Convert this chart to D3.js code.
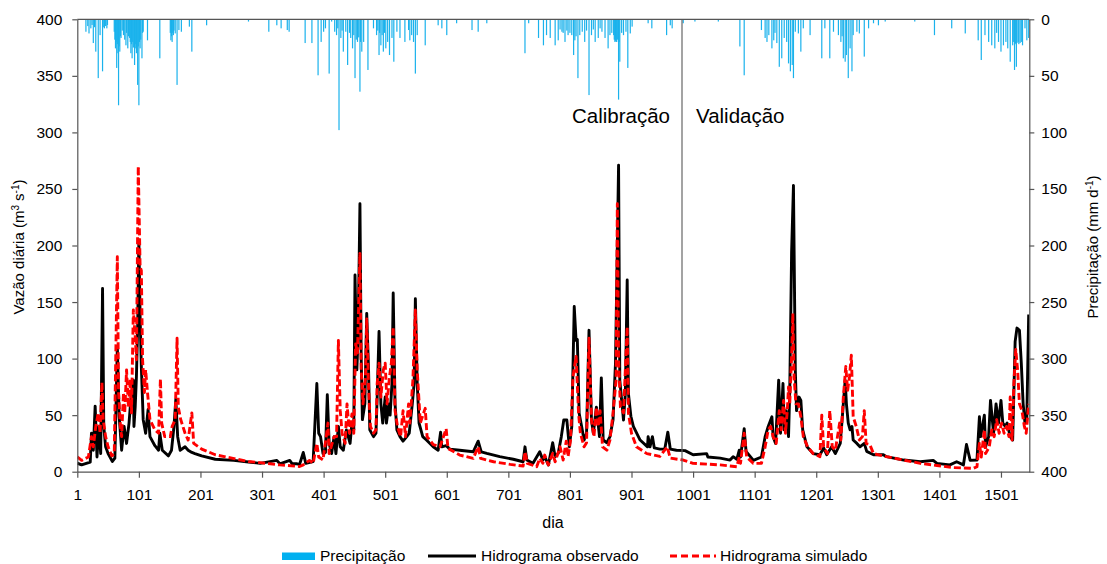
<!DOCTYPE html>
<html><head><meta charset="utf-8">
<script src="https://cdn.jsdelivr.net/npm/d3@7"></script>
<style>body{margin:0;background:#fff}svg{display:block}text{font-family:"Liberation Sans",Arial,sans-serif;fill:#000}</style>
</head><body><svg id="c" width="1107" height="564"></svg>
<script>
// ---- data ----
const xTicks = [1,101,201,301,401,501,601,701,801,901,1001,1101,1201,1301,1401,1501];
const yTicks = [0,50,100,150,200,250,300,350,400];
const precTicks = [0,50,100,150,200,250,300,350,400];
const dayRange = [1,1547];
const splitDay = 983;

// observed daily discharge [day, m3/s]
const observado = [[1,7.5],[8,6],[22,8.5],[24,34],[27,19],[30,58],[33,13],[36,40],[39,16],[42,162],[44,40],[47,22],[51,16],[58,9],[62,12],[66,110],[69,49],[73,19],[77,40],[81,25],[85,43],[88,64],[92,81],[93,40],[95,57],[97,84],[99,128],[101,205],[103,137],[105,93],[108,46],[112,34],[116,55],[119,31],[127,23],[133,19],[135,34],[139,19],[149,14],[154,19],[158,40],[161,64],[164,31],[168,19],[176,22],[181,19],[187,17],[192,16],[203,14],[225,11],[255,10],[279,8.6],[298,7.4],[325,10],[330,7],[346,10],[350,7],[357,7],[362,6.5],[368,17],[372,7.4],[384,9],[390,78],[393,34],[396,31],[400,16],[404,17],[407,68],[410,25],[414,16],[418,31],[421,16],[425,40],[428,22],[433,19],[438,37],[444,25],[447,43],[450,37],[452,174],[455,90],[457,120],[460,237],[462,102],[464,46],[468,60],[471,140],[474,90],[476,37],[482,31],[486,34],[488,66],[491,124],[494,60],[497,43],[501,66],[503,43],[507,60],[509,50],[512,78],[514,158],[517,60],[520,37],[525,31],[530,27],[536,31],[540,34],[545,60],[548,78],[550,153],[553,78],[556,43],[562,31],[568,28],[579,22],[587,19],[591,35],[593,22],[600,23],[606,20],[622,19],[644,17.6],[652,27],[657,17.6],[666,16.2],[687,13.3],[709,11],[725,8.8],[728,22],[731,10.3],[741,7.4],[752,17.6],[757,10.3],[760,13.3],[766,6],[773,25.6],[777,13.3],[782,16.2],[787,31],[791,45.7],[796,45.7],[800,22],[804,40],[808,146],[811,116],[813,117],[816,51.6],[820,40],[824,28],[828,34],[832,125],[836,45.7],[839,34],[844,57],[849,31],[852,83],[855,28],[861,25.6],[866,31],[871,45.7],[875,96],[880,271],[882,81],[888,45.7],[891,69],[894,169.5],[896,69],[900,49],[904,40],[915,28],[927,22],[928,31],[931,22],[935,31],[938,21],[947,20],[955,20],[960,35],[964,20],[974,19],[988,18.6],[1001,15],[1023,16],[1025,13],[1045,12],[1061,10.3],[1066,13.3],[1072,11],[1076,19],[1078,13],[1084,38],[1087,18],[1099,10],[1112,13],[1118,31],[1123,40],[1129,48.6],[1131,31],[1135,25],[1140,81],[1143,34],[1147,78],[1149,37],[1152,54],[1156,31],[1158,72],[1161,194],[1164,253],[1167,90],[1169,54],[1173,66],[1176,63],[1179,37],[1186,22],[1196,16],[1207,15],[1213,21],[1218,15],[1226,22],[1232,16],[1240,25],[1245,60],[1248,81],[1250,60],[1253,43],[1256,37],[1259,40],[1261,28],[1267,25],[1272,22],[1279,25],[1283,18],[1294,15],[1310,15],[1315,13.3],[1343,10.3],[1370,8.8],[1391,10],[1397,7.4],[1418,6],[1429,8.8],[1440,6],[1445,24],[1451,10],[1462,10.3],[1466,48.6],[1468,31],[1474,50],[1476,22],[1481,31],[1484,63],[1489,34],[1493,60],[1497,43],[1501,63],[1504,43],[1508,40],[1511,43],[1516,31],[1520,28],[1524,115],[1527,127],[1531,125],[1534,96],[1537,60],[1540,43],[1543,48],[1546,139]];

// simulated daily discharge [day, m3/s]
const simulado = [[1,13],[8,10],[19,13],[24,31],[27,22],[31,40],[35,52],[38,34],[41,79],[43,46],[47,31],[51,22],[57,14],[61,16],[66,190],[68,70],[71,40],[73,31],[76,70],[78,52],[81,90],[84,57],[87,82],[89,52],[92,143],[95,120],[97,99],[100,270],[103,181],[105,178],[107,99],[110,70],[112,90],[115,70],[119,46],[127,37],[133,34],[136,82],[138,43],[143,31],[152,31],[155,40],[160,46],[163,118],[165,57],[169,46],[176,34],[181,28],[187,52],[190,25],[203,20],[225,15],[252,12],[279,9],[298,8],[330,6],[362,4.6],[368,6],[378,10],[384,7.4],[390,25],[393,13],[400,10.4],[406,34],[408,43],[410,16],[418,31],[422,31],[425,116],[428,54],[431,34],[436,25],[439,60],[443,34],[447,51],[450,34],[453,113],[456,105],[460,193],[462,90],[465,60],[469,84],[471,135],[474,75],[477,40],[482,34],[486,37],[488,78],[491,96],[494,66],[498,90],[501,96],[504,60],[508,84],[511,96],[514,128],[517,54],[521,40],[526,31],[530,54],[534,31],[539,60],[541,43],[546,81],[550,143],[553,90],[558,43],[566,56],[569,31],[579,24],[590,22],[600,38],[603,20.6],[622,14.7],[644,11.8],[652,22],[656,11.8],[677,8.8],[704,6.5],[725,5],[728,17.6],[732,7.4],[747,4.4],[752,11.8],[757,7.4],[760,14.7],[766,6],[773,16.2],[777,8.8],[785,22],[790,10.3],[795,27],[798,13.3],[802,28],[806,84],[811,102],[815,51.6],[818,34],[824,22],[828,25.6],[832,118],[836,45.7],[840,31],[844,57],[847,40],[850,54],[854,22],[861,19],[866,28],[871,51.6],[876,81],[878,237],[880,99],[883,57],[888,52],[894,128],[896,52],[901,34],[909,22],[926,16],[947,13.5],[959,22],[964,12],[985,10.3],[1001,7.4],[1045,6],[1072,4.4],[1076,13],[1078,7.4],[1084,34],[1088,13],[1099,7.4],[1112,7.4],[1118,22],[1123,37],[1127,40],[1131,31],[1136,25],[1141,54],[1144,37],[1148,63],[1151,34],[1154,54],[1156,75],[1158,60],[1161,102],[1163,140],[1165,84],[1168,60],[1172,60],[1176,48.6],[1180,31],[1187,22],[1196,16],[1207,13.3],[1210,50],[1213,22],[1219,16],[1223,54],[1227,22],[1232,19],[1239,43],[1241,28],[1245,66],[1249,93],[1252,72],[1255,84],[1258,103],[1261,48.6],[1266,40],[1271,28],[1276,31],[1279,54],[1282,25],[1288,24],[1294,16],[1315,13.3],[1343,10.3],[1370,7.4],[1397,5.5],[1424,3.6],[1456,2.9],[1462,4.4],[1466,25],[1469,13],[1474,37],[1476,16],[1482,22],[1486,37],[1490,31],[1494,46],[1498,34],[1502,43],[1506,34],[1510,40],[1514,31],[1516,66],[1519,28],[1522,78],[1525,108],[1528,90],[1531,60],[1535,54],[1539,40],[1542,34],[1546,60]];

// daily precipitation [day, mm]
const precipitacao = [[15,11],[18,6],[20,12.5],[23,8],[25,5],[27,21],[29,7],[31,28.6],[35,52],[38,14],[42,46],[44,7],[45,8],[47,6],[49,8],[50,5],[61,11],[62,18],[63,25.7],[64,20],[65,43],[66,22],[67,30],[68,76],[69,24],[70,28.6],[71,15],[72,16.5],[74,10],[76,14],[78,18],[80,23],[81,12],[83,25.7],[84,15],[86,16.5],[87,20],[88,30],[89,22],[90,34.5],[91,20],[92,25],[94,40.4],[95,22],[96,25.7],[97,30],[99,58],[100,24],[101,76],[102,20],[103,25.7],[104,18],[106,34.5],[107,12],[108,11],[115,18.6],[135,34.5],[152,12],[153,18.6],[154,15],[155,20],[156,12],[157,14],[158,10],[160,12.5],[163,58],[166,9.5],[170,11],[183,6.5],[187,28.6],[211,5.3],[279,2],[312,11],[325,5.3],[332,8],[342,9.5],[345,11],[371,21],[382,21],[392,49.5],[397,20],[401,11],[404,8],[410,48],[414,2],[419,11],[422,14],[424,8],[426,98],[429,16.5],[431,10],[433,28.6],[437,11],[440,40.4],[443,12],[445,16.5],[448,25.7],[450,14],[452,52],[454,18],[456,20],[458,16],[460,64],[461,20],[463,28.6],[466,20],[473,44.8],[482,8],[487,14],[489,10],[491,31.6],[492,12],[494,23],[496,14],[498,28.6],[500,12],[502,25.7],[505,20],[508,31.6],[512,16.5],[515,37.5],[520,11],[525,16.5],[533,20],[539,9.5],[541,18.6],[544,14],[547,20],[550,48],[553,14],[566,23],[587,5.3],[593,8],[601,14],[617,3.5],[642,9.5],[652,11],[666,3.5],[728,30],[734,3.5],[750,16.5],[758,23],[763,14],[769,16.5],[777,23],[782,18.6],[785,9],[788,11],[790,12],[793,20],[796,10],[798,14],[801,12],[804,14],[807,31.6],[809,18.6],[811,15],[814,52],[817,14],[821,11],[825,20],[828,10],[832,67],[836,14],[839,9],[842,20],[847,16.5],[850,8],[853,11],[858,16.5],[863,25.7],[866,14],[869,12],[872,14],[873,18],[874,20],[875,19],[876,20],[877,20],[878,18],[880,71],[881,20],[882,37.5],[885,12],[888,14],[892,11],[895,43],[899,12.5],[902,6.5],[928,3.5],[934,8],[958,14],[964,5.3],[967,8],[985,3.5],[1004,2],[1042,2],[1077,24],[1084,49.5],[1112,9.5],[1118,16.5],[1121,20],[1124,14],[1129,25.7],[1132,18.6],[1134,12],[1137,21],[1141,42],[1145,34.5],[1149,16.5],[1153,20],[1156,39],[1159,46],[1162,40.4],[1164,52],[1167,11],[1172,12.5],[1176,28.6],[1180,8],[1191,14],[1210,34.5],[1215,8],[1223,34.5],[1229,11],[1237,14],[1241,20],[1243,15],[1245,34.5],[1248,37.5],[1250,31.6],[1253,52],[1256,25.7],[1259,46],[1261,14],[1267,11],[1271,12.5],[1279,33],[1286,8],[1294,3.5],[1302,5.3],[1313,2],[1361,2],[1393,14],[1421,8],[1443,12.5],[1464,18.6],[1469,36],[1475,14],[1481,20],[1486,23],[1491,25.7],[1494,12],[1497,20],[1501,28.6],[1505,23],[1509,20],[1512,25.7],[1516,37.5],[1520,23],[1521,20],[1523,44.8],[1524,22],[1525,21],[1526,42],[1527,21],[1529,20],[1530,22],[1532,21],[1534,20],[1536,23],[1540,8],[1543,18.6],[1546,16.5]];

// ---- drawing ----
const svg = d3.select("#c");
const L = 77.3, R = 1029.3, T = 19.3, B = 471.7;
const x = d3.scaleLinear().domain(dayRange).range([L, R]);
const y = d3.scaleLinear().domain([0,400]).range([B, T]);
const yP = d3.scaleLinear().domain([0,400]).range([T, B]);
const axisCol = "#555";

svg.append("defs").append("clipPath").attr("id","clip")
  .append("rect").attr("x",L).attr("y",T).attr("width",R-L).attr("height",B-T);

const plot = svg.append("g").attr("clip-path","url(#clip)");

// precipitation bars hanging from the top
plot.append("g").selectAll("rect").data(precipitacao).join("rect")
  .attr("x", d => x(d[0]) - 0.6)
  .attr("y", T)
  .attr("width", 1.2)
  .attr("height", d => yP(d[1]) - T)
  .attr("fill", "#1AB2EC");

const line = d3.line().x(d => x(d[0])).y(d => y(d[1])).curve(d3.curveLinear);

plot.append("path").datum(observado).attr("d", line)
  .attr("fill","none").attr("stroke","#000").attr("stroke-width",2.9)
  .attr("stroke-linejoin","round");
plot.append("path").datum(simulado).attr("d", line)
  .attr("fill","none").attr("stroke","#FF0000").attr("stroke-width",2.9)
  .attr("stroke-dasharray","7,3").attr("stroke-linejoin","round");

// calibration / validation divider
svg.append("line").attr("x1",x(splitDay)).attr("x2",x(splitDay)).attr("y1",T).attr("y2",B)
  .attr("stroke","#666").attr("stroke-width",1.2);

// top border line
svg.append("line").attr("x1",L).attr("x2",R).attr("y1",T).attr("y2",T)
  .attr("stroke",axisCol).attr("stroke-width",1.2);

function styleAxis(g){
  g.selectAll("path,line").attr("stroke",axisCol).attr("stroke-width",1.2);
  g.selectAll("text").style("font-family",'"Liberation Sans",Arial,sans-serif').style("font-size","15.5px").attr("fill","#222");
}

svg.append("g").attr("transform",`translate(${L},0)`)
  .call(d3.axisLeft(y).tickValues(yTicks).tickSize(5).tickSizeOuter(0).tickPadding(10))
  .call(styleAxis);

svg.append("g").attr("transform",`translate(${R},0)`)
  .call(d3.axisRight(yP).tickValues(precTicks).tickSize(5).tickSizeOuter(0).tickPadding(7))
  .call(styleAxis);

svg.append("g").attr("transform",`translate(0,${B})`)
  .call(d3.axisBottom(x).tickValues(xTicks).tickFormat(d3.format("d")).tickSize(6).tickSizeOuter(0).tickPadding(11))
  .call(styleAxis);

// texts
svg.append("text").attr("x",572).attr("y",123).style("font-size","20.5px").text("Calibração");
svg.append("text").attr("x",696).attr("y",123).style("font-size","20.5px").text("Validação");
svg.append("text").attr("x",553).attr("y",528).attr("text-anchor","middle").style("font-size","16px").text("dia");

const yl = svg.append("text").attr("transform","translate(24,247) rotate(-90)")
  .attr("text-anchor","middle").style("font-size","15px");
yl.append("tspan").text("Vazão diária (m");
yl.append("tspan").attr("dy",-5).style("font-size","10px").text("3");
yl.append("tspan").attr("dy",5).text(" s");
yl.append("tspan").attr("dy",-5).style("font-size","10px").text("-1");
yl.append("tspan").attr("dy",5).text(")");

const yr = svg.append("text").attr("transform","translate(1098,247) rotate(-90)")
  .attr("text-anchor","middle").style("font-size","15px");
yr.append("tspan").text("Precipitação (mm d");
yr.append("tspan").attr("dy",-5).style("font-size","10px").text("-1");
yr.append("tspan").attr("dy",5).text(")");

// legend
const lg = svg.append("g");
lg.append("rect").attr("x",282).attr("y",552.5).attr("width",33).attr("height",7.5).attr("fill","#00B0F0");
lg.append("text").attr("x",320).attr("y",561).style("font-size","15.5px").text("Precipitação");
lg.append("line").attr("x1",428).attr("x2",476).attr("y1",556).attr("y2",556).attr("stroke","#000").attr("stroke-width",3);
lg.append("text").attr("x",481).attr("y",561).style("font-size","15.5px").text("Hidrograma observado");
lg.append("line").attr("x1",670).attr("x2",716).attr("y1",556).attr("y2",556).attr("stroke","#FF0000").attr("stroke-width",3).attr("stroke-dasharray","7,4");
lg.append("text").attr("x",720).attr("y",561).style("font-size","15.5px").text("Hidrograma simulado");
</script></body></html>
